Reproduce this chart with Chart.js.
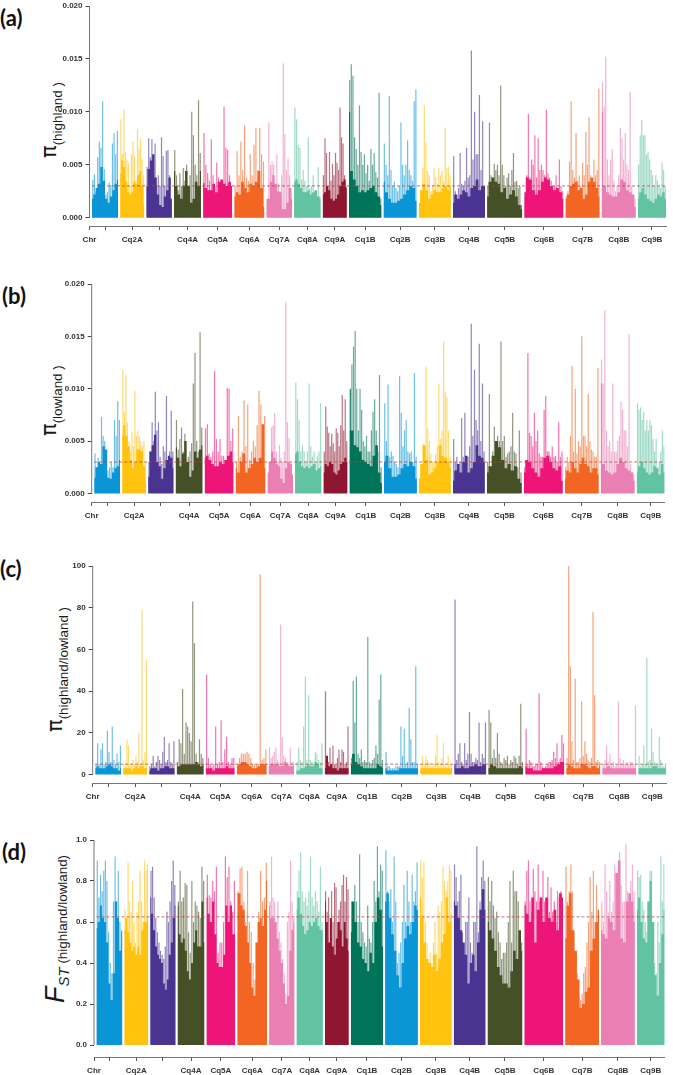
<!DOCTYPE html>
<html><head><meta charset="utf-8">
<script src="https://cdn.jsdelivr.net/npm/chart.js@4/dist/chart.umd.js"></script>
<style>
html,body{margin:0;padding:0;background:#fff;width:673px;height:1075px;overflow:hidden}
canvas{position:absolute;left:0}
.tag{position:absolute;font:700 22px Lato,"Open Sans",sans-serif;color:#111;line-height:1}
.yt{position:absolute;transform-origin:0 0;transform:rotate(-90deg);white-space:nowrap;line-height:1;font-family:"Liberation Sans",Arial,sans-serif;color:#1a1a1a;font-size:22px}
.yt .p{font-family:"DejaVu Sans";font-size:21px}
.yt .s{font-size:13.4px;vertical-align:-6px}
.yt i.f{font-size:27px}
.yt i.st{font-size:15px;vertical-align:-5px}
</style></head><body>
<div class="tag" style="left:0;top:7px">(a)</div>
<div class="tag" style="left:2px;top:285px">(b)</div>
<div class="tag" style="left:0;top:558px">(c)</div>
<div class="tag" style="left:2px;top:841px">(d)</div>
<div class="yt" style="left:38px;top:158px"><span class="p">π</span><span class="s">(highland )</span></div>
<div class="yt" style="left:38px;top:436px"><span class="p">π</span><span class="s">(lowland )</span></div>
<div class="yt" style="left:44px;top:732px"><span class="p">π</span><span class="s">(highland/lowland )</span></div>
<div class="yt" style="left:42px;top:1003px"><i class="f">F</i><i class="st">ST</i><span class="s" style="vertical-align:-3px"> (highland/lowland)</span></div>
<canvas id="a"></canvas><canvas id="b"></canvas><canvas id="c"></canvas><canvas id="d"></canvas>
<script>
const chromosomes=['Cq1A','Cq2A','Cq3A','Cq4A','Cq5A','Cq6A','Cq7A','Cq8A','Cq9A','Cq1B','Cq2B','Cq3B','Cq4B','Cq5B','Cq6B','Cq7B','Cq8B','Cq9B'];
const chromLengths=[52,48,51,54,58,60,51,53,48,65,66,64,64,70,78,68,68,56];
const chromGap=4;
const chromColors=['#0a96d6','#ffc20e','#4a3391','#465026','#ed1578','#f26522','#ea7fb4','#61c3a1','#8f1631','#007459','#0a96d6','#ffc20e','#4a3391','#465026','#ed1578','#f26522','#ea7fb4','#61c3a1'];
const xTickLabels=['Chr','','Cq2A','','Cq4A','Cq5A','Cq6A','Cq7A','Cq8A','Cq9A','Cq1B','Cq2B','Cq3B','Cq4B','Cq5B','Cq6B','Cq7B','Cq8B','Cq9B'];

// pi highland, x 1e-4
const highlandTicks=[0,50,100,150,200];
const highlandLabels=['0.000','0.005','0.010','0.015','0.020'];
const highlandMean=30;
const highlandPeaks=[
[36,41,24,57,72,66,110,46,22,24,33,31,70,80,60,82],
[93,60,102,62,55,52,30,60,72,58,35,84,65,75,56,40],
[48,75,57,74,50,70,30,40,30,76,58,30,63,64,40,18],
[64,40,26,42,30,47,35,50,25,40,100,78,50,40,111,61],
[80,50,42,35,74,40,30,52,38,30,32,105,66,64,40,30],
[30,63,40,72,45,87,38,35,60,40,69,85,45,85,60,53],
[18,90,50,53,50,30,60,32,25,40,146,79,45,56,40,28],
[104,93,69,66,36,45,35,30,76,28,30,40,25,22,48,20],
[40,75,61,30,62,35,51,40,61,52,45,104,76,70,40,30],
[130,145,134,76,65,50,106,62,50,60,42,50,35,65,50,61,43,38,118,18],
[70,50,40,115,45,30,34,28,25,30,90,50,40,50,73,45,40,35,110,121],
[12,20,47,106,71,44,40,25,30,47,38,32,47,40,44,35,85,47,48,40],
[58,25,22,28,61,32,30,35,66,38,40,158,55,100,60,60,116,45,91,30],
[30,90,40,30,51,45,50,40,125,50,40,30,38,42,30,45,61,34,35,28,30,12],
[20,40,98,38,55,50,78,38,75,45,50,45,40,102,42,38,35,30,30,40,28,55,30,25],
[20,25,53,110,45,38,80,35,40,30,52,40,81,50,95,40,35,55,40,45,122],
[128,105,152,55,40,55,65,35,25,30,40,85,75,55,80,50,45,119,30,20,18],
[50,78,92,78,78,60,62,55,45,40,30,40,35,30,28,52,45,30]];
const highlandBody=[
[18,22,28,32,48,35,18,14,20,26,32,36],
[42,54,48,34,24,22,24,34,32,40,44,30,12],
[30,46,54,60,38,22,12,10,20,26,38,18],
[44,30,22,18,30,44,30,14,18,34,30,44],
[33,28,26,26,32,24,34,36,32,30,34,30],
[20,24,22,34,28,24,32,30,34,44,28,10],
[18,18,34,40,32,25,24,8,8,14,28,18],
[34,36,32,28,24,24,26,22,24,26,20,18],
[22,24,30,26,18,16,18,22,30,34,36,28],
[100,44,36,30,24,26,24,26,28,30,24,20,12],
[34,24,18,14,14,16,18,22,26,30,28,16],
[14,26,32,26,18,22,26,24,24,28,30,26,30],
[14,22,18,22,26,24,20,28,30,36,26,30,30],
[20,34,38,34,32,24,28,18,22,26,20,12,8],
[24,38,36,26,22,26,34,38,36,30,26,28,24,18],
[18,22,30,32,34,26,28,18,22,34,38,34,28,20],
[100,30,24,22,20,20,24,36,34,26,24,22,10],
[18,24,28,22,18,16,14,18,22,20,24,18]];

// pi lowland, x 1e-4
const lowlandTicks=[0,50,100,150,200];
const lowlandLabels=['0.000','0.005','0.010','0.015','0.020'];
const lowlandMean=30;
const lowlandPeaks=[
[38,22,34,20,73,55,50,18,22,25,30,25,70,55,88,70],
[118,78,113,68,50,40,59,45,98,55,60,55,50,45,50,30],
[30,40,68,50,97,60,68,35,28,45,40,93,30,40,79,40],
[70,42,52,63,40,57,30,35,40,48,105,134,50,40,154,63],
[62,66,38,35,40,117,52,40,52,36,36,32,101,100,50,62],
[30,74,35,40,89,45,85,32,40,50,45,65,98,85,45,74],
[20,25,63,65,77,40,30,46,34,30,40,183,68,53,30,18],
[106,90,70,40,46,40,30,40,105,45,35,40,30,35,40,86],
[40,83,64,58,45,57,48,40,62,58,45,65,94,60,90,50],
[60,123,140,155,100,60,100,80,50,45,55,40,40,60,78,90,60,40,113,25],
[86,50,104,35,40,36,30,28,25,112,77,45,60,70,40,38,40,30,115,35],
[15,28,47,40,121,62,50,38,30,30,38,45,105,52,60,145,97,92,60,35],
[52,30,35,28,30,72,35,77,32,35,45,162,55,118,70,60,143,50,105,40],
[30,95,25,40,64,45,55,50,145,50,55,35,38,40,45,77,40,38,25,60,20],
[25,30,134,58,55,45,77,50,60,38,35,35,80,93,40,40,35,45,35,36,30,68,35,40],
[25,35,30,55,122,40,100,38,50,45,150,55,55,45,95,50,42,40,35,35,120],
[128,105,175,60,45,50,40,105,40,40,50,55,88,80,60,60,45,152,28,20,18],
[86,80,82,70,78,60,70,60,70,65,52,40,52,25,30,40,60,45]];
const lowlandBody=[
[15,25,30,28,45,42,15,14,20,24,26,32],
[55,65,55,45,32,24,30,42,42,40,26,10],
[16,40,46,56,30,26,14,24,32,36,34,24],
[44,34,26,38,50,30,16,22,40,34,42,46],
[34,36,32,28,26,26,30,28,32,36,40,30],
[24,20,30,38,20,24,28,34,30,34,66,24],
[20,30,40,34,28,26,14,10,24,30,28,18],
[38,40,30,26,24,26,24,26,28,22,24,26],
[20,28,26,30,28,20,18,22,28,30,34,30],
[100,60,46,44,40,32,30,28,26,36,46,20,10],
[30,36,24,16,16,18,24,28,26,30,26,14],
[14,28,46,32,18,20,24,30,46,36,34,30,25],
[12,22,28,20,30,36,20,24,30,46,36,34,30],
[20,26,36,50,44,32,24,28,22,26,14,10],
[20,32,30,24,20,16,24,34,36,30,24,22,26,12],
[14,22,20,30,24,20,28,34,28,26,20,24,24,18],
[105,28,22,20,18,20,28,34,30,24,22,20,12],
[20,26,30,24,20,18,20,26,24,18,28,20]];

// pi highland/lowland ratio
const ratioTicks=[0,20,40,60,80,100];
const ratioLabels=['0','20','40','60','80','100'];
const ratioMean=5;
const ratioPeaks=[
[5,15,5,12,15,5,6,21,11,6,23,7,5,10,6,14],
[5,4,17,14,5,5,7,5,9,6,20,5,79,7,11,55],
[4,5,9,4,6,9,7,5,11,18,6,7,15,6,5,16],
[6,17,15,41,10,25,23,20,16,83,63,10,6,17,10,8],
[48,8,5,4,5,23,5,6,26,6,12,18,6,5,8,8],
[5,8,10,10,10,11,10,8,5,5,5,5,96,7,8,12],
[13,8,9,11,13,7,6,72,18,9,8,6,5,13,6,6],
[6,13,7,6,23,47,7,38,7,6,5,11,10,7,6,15],
[40,5,6,13,5,14,5,5,8,12,6,12,11,5,6,23],
[8,45,25,47,10,8,12,6,7,6,66,6,5,7,8,14,10,36,48,7],
[11,4,4,3,3,3,4,4,4,23,9,22,5,6,32,17,6,6,52,5],
[5,9,5,9,7,6,4,4,5,9,19,6,5,8,15,5,4,9,5,5],
[84,7,10,15,6,5,15,7,10,30,10,6,6,8,7,25,6,10,8,25],
[31,25,8,12,8,20,10,6,5,8,7,9,5,7,6,9,8,5,9,34,6],
[22,5,7,6,4,4,5,5,39,6,4,3,4,5,6,6,7,11,8,15,6,8,19,15],
[8,100,52,16,7,46,6,6,8,35,9,16,10,7,6,8,78,38,6,7,6],
[5,7,14,6,10,5,6,4,5,35,8,5,7,5,6,5,6,6,5,33],
[9,4,5,14,5,56,6,7,22,11,6,5,5,18,7,4,4,5]];
const ratioBody=[
[3,4,3,3,3,4,5,4,3,3,2,3],
[3,3,3,3,2,3,4,3,4,4,3,3],
[2,3,3,3,2,3,3,4,4,3,3,3],
[4,4,5,5,5,5,5,5,6,5,4,5],
[3,3,3,2,3,3,3,3,4,3,3,3],
[4,5,6,6,5,4,3,3,4,5,5,5],
[4,5,5,5,5,4,4,6,5,4,4,4],
[2,2,3,3,4,5,4,4,6,5,3,3],
[3,9,4,5,3,3,2,3,3,3,3,3],
[5,10,6,5,4,3,3,3,3,3,5,4,3],
[3,2,2,2,2,3,3,3,3,3,3,3],
[3,3,3,3,3,3,3,3,3,3,3,3],
[5,3,3,4,3,3,4,4,5,4,4,5,5],
[3,5,4,3,3,3,3,3,3,3,4,3],
[4,3,3,2,2,2,3,3,3,3,4,5,6,6],
[3,5,4,3,3,3,5,5,4,3,4,4,3,4],
[3,3,4,3,3,3,3,3,3,3,3,3],
[3,3,3,3,3,3,4,4,3,3,3,3]];

// FST x 100
const fstTicks=[0,20,40,60,80,100];
const fstLabels=['0.0','0.2','0.4','0.6','0.8','1.0'];
const fstMean=62.5;
const fstPeaks=[
[90,72,83,75,85,90,80,55,40,35,70,92,70,85,60,55],
[66,60,89,70,65,80,60,50,65,70,85,70,60,90,85,88],
[85,87,72,62,55,50,46,44,42,48,65,60,70,80,90,78],
[70,85,70,72,79,78,55,45,80,60,70,68,65,62,87,80],
[83,73,72,80,75,87,45,50,50,60,92,82,87,70,65,80],
[75,86,87,70,60,85,60,55,40,32,35,65,85,70,72,89],
[70,92,72,70,60,70,55,50,42,35,25,60,65,90,70,60],
[75,85,94,75,70,72,68,75,92,72,68,75,70,65,87,60],
[75,65,72,50,75,60,79,77,60,66,70,78,83,70,82,76],
[70,65,78,70,60,93,60,55,50,48,68,52,50,60,80,70,97,75,88,85],
[95,75,70,76,60,92,70,40,45,50,60,78,60,85,70,60,83,70,75,89],
[90,82,89,60,50,40,45,40,50,60,45,68,65,70,87,80,75,80,88,85],
[88,82,70,75,83,55,40,60,60,72,50,45,60,60,97,55,70,82,90,80],
[82,70,80,68,62,65,55,50,42,45,45,50,60,80,50,85,75,75,70,55,50],
[70,85,90,70,65,86,75,70,88,70,65,85,70,60,82,65,77,65,70,60,75,72,75,60],
[87,70,75,88,75,55,45,35,25,22,25,35,38,50,60,82,65,85,60,78,60],
[70,60,88,75,65,80,65,70,88,75,75,94,78,70,70,98,75,72,80,88,75],
[85,82,83,70,66,60,55,60,85,85,60,40,35,60,50,92,70,88]];
const fstBody=[
[57,60,68,62,60,50,30,22,35,70,62,46,56],
[56,62,55,50,46,48,44,48,44,56,60,60,62],
[72,64,56,48,44,42,40,30,27,32,44,50,62,68],
[68,54,50,52,46,36,32,40,50,56,48,48,70,50],
[72,64,60,70,54,40,38,38,44,68,60,68,54,54],
[74,74,68,66,58,50,40,28,24,50,60,62,58,66,80],
[68,62,62,60,52,46,40,30,20,24,46,56,62],
[66,72,64,58,54,56,60,58,60,62,58,56,56],
[70,60,50,62,48,44,52,60,56,48,60,52,46],
[55,70,60,50,48,42,40,36,45,40,60,72,66,48],
[70,74,62,54,46,34,28,40,52,58,54,60,68,66],
[72,62,50,42,40,38,44,36,42,50,54,72,60,64],
[70,68,62,56,50,44,30,40,44,36,50,66,76,66],
[60,56,52,46,38,34,30,30,28,36,46,42,56,46],
[68,64,60,72,50,66,72,60,72,62,60,66,56,74,72],
[52,68,74,56,46,32,18,20,26,28,46,52,60,66],
[56,54,52,62,60,56,84,90,52,50,70,74,70,60],
[66,72,60,52,50,70,80,60,34,24,40,54,66]];

const starts=[];let cursor=0;
chromLengths.forEach(l=>{starts.push(cursor);cursor+=l+chromGap;});
const genomeEnd=cursor-chromGap;
const xTicks=[-5].concat(starts.map((s,i)=>s+chromLengths[i]/2));

function alpha(hex,a){const n=parseInt(hex.slice(1),16);return `rgba(${n>>16},${(n>>8)&255},${n&255},${a})`;}

function panel(id,g,peaks,body,mean,ticks,labels){
  const cv=document.getElementById(id);
  const pad=10,w=673,h=Math.round(g.axis-g.top+pad+22);
  cv.width=w;cv.height=h;cv.style.width=w+'px';cv.style.height=h+'px';cv.style.top=(g.top-pad)+'px';
  const yMax=ticks[ticks.length-1];
  const yMin=-(g.axis-g.zero)/(g.zero-g.top)*yMax;
  const ds=[];
  chromosomes.forEach((name,c)=>{
    const s=starts[c],l=chromLengths[c];
    ds.push({type:'bar',label:name+' peak',order:3,grouped:false,barThickness:1.2,inflateAmount:0,
      backgroundColor:alpha(chromColors[c],.6),borderWidth:0,
      data:peaks[c].map((v,i)=>({x:s+(i+.5)/peaks[c].length*l,y:v}))});
    ds.push({type:'line',label:name,order:2,stepped:'middle',fill:'origin',borderWidth:0,pointRadius:0,
      backgroundColor:chromColors[c],borderColor:chromColors[c],
      data:body[c].map((v,i)=>({x:s+i/(body[c].length-1)*l,y:v}))});
  });
  ds.push({type:'line',label:'mean',order:1,borderColor:'rgba(175,70,60,.85)',borderWidth:.9,borderDash:[3,2],pointRadius:0,fill:false,
    data:[{x:0,y:mean},{x:genomeEnd,y:mean}]});
  const font={family:'"Liberation Sans",Arial,sans-serif',size:8,weight:'bold'};
  new Chart(cv,{type:'bar',data:{datasets:ds},
    plugins:[{id:'yLine',afterDraw(ch){const y=ch.scales.y,c=ch.ctx;c.save();c.strokeStyle='#777';c.lineWidth=1;c.beginPath();
      c.moveTo(g.left,y.getPixelForValue(yMax));c.lineTo(g.left,y.getPixelForValue(0));c.stroke();c.restore();}}],
    options:{responsive:false,animation:false,devicePixelRatio:1,
      layout:{padding:{top:pad,right:w-g.right,left:0,bottom:0}},
      plugins:{legend:{display:false},tooltip:{enabled:false},title:{display:false}},
      scales:{
        x:{type:'linear',offset:false,min:-5,max:genomeEnd,
          afterBuildTicks(s){s.ticks=xTicks.map(v=>({value:v}));},
          afterFit(s){s.height=22;},
          grid:{drawOnChartArea:false,drawTicks:true,offset:false,tickLength:4,color:'#555'},
          border:{display:true,color:'#777'},
          ticks:{autoSkip:false,maxRotation:0,minRotation:0,padding:5,color:'#333',font,
            callback:(v,i)=>xTickLabels[i]}},
        y:{type:'linear',min:yMin,max:yMax,
          afterBuildTicks(s){s.ticks=ticks.map(v=>({value:v}));},
          afterFit(s){s.width=g.left;},
          grid:{drawOnChartArea:false,drawTicks:true,tickLength:4,color:'#444'},
          border:{display:false},
          ticks:{autoSkip:false,padding:3,color:'#333',font,
            callback:(v,i)=>labels[i]}}
      }}});
}
panel('a',{top:6.3,zero:217.7,axis:226,left:89.5,right:666},highlandPeaks,highlandBody,highlandMean,highlandTicks,highlandLabels);
panel('b',{top:284,zero:493.7,axis:502.3,left:91.7,right:664.7},lowlandPeaks,lowlandBody,lowlandMean,lowlandTicks,lowlandLabels);
panel('c',{top:565.7,zero:774.3,axis:782.7,left:92.7,right:666.3},ratioPeaks,ratioBody,ratioMean,ratioTicks,ratioLabels);
panel('d',{top:840.3,zero:1045.3,axis:1057.3,left:94,right:664.7},fstPeaks,fstBody,fstMean,fstTicks,fstLabels);
</script>
</body></html>
